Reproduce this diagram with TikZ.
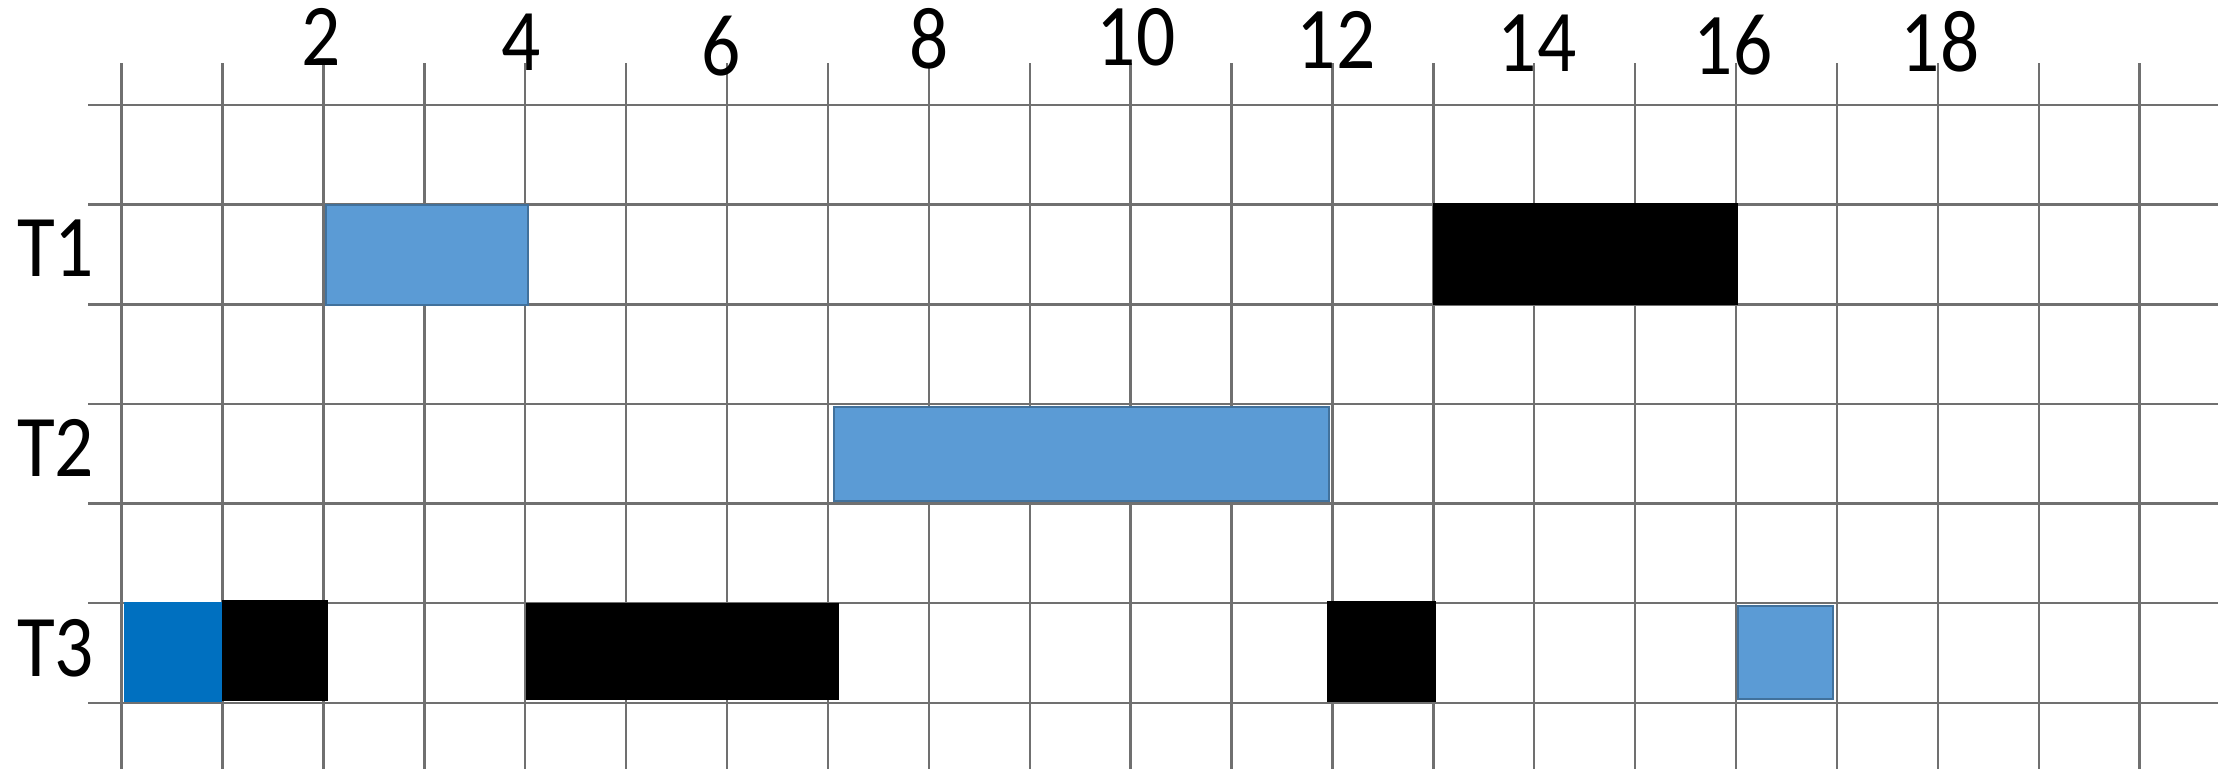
\documentclass[tikz,border=0pt]{standalone}
\usepackage{fontspec}
\usepackage{graphicx}
\setmainfont{Carlito}
\definecolor{gridgray}{HTML}{707070}
\definecolor{barblue}{HTML}{5B9BD5}
\definecolor{barborder}{HTML}{41719C}
\definecolor{deepblue}{HTML}{0070C0}
\newcommand{\narrowtxt}[1]{\scalebox{0.88}[1]{#1}}
\begin{document}
\begin{tikzpicture}[x=1pt,y=-1pt,
  gridline/.style={draw=gridgray,line width=2.4pt},
  lbl/.style={font=\fontsize{88}{100}\selectfont, anchor=base, inner sep=0pt},
  lightbar/.style={fill=barblue,draw=barborder,line width=2pt},
  deepbar/.style={fill=deepblue},
  darkbar/.style={fill=black}]
\useasboundingbox[fill=white] (0,0) rectangle (2218,769);
% grid
\foreach \i in {0,...,20}
  \draw[gridline] ({121.6+100.9*\i},63) -- ({121.6+100.9*\i},769);
\foreach \y in {105,204.5,304.5,404,503.5,603,703}
  \draw[gridline] (88,\y) -- (2218,\y);
% bars
\path[lightbar] (325.6,204.5) rectangle (527.6,304.5);
\path[darkbar] (1433,202.7) rectangle (1738,304.5);
\path[lightbar] (834,406.7) rectangle (1329,500.7);
\path[deepbar] (123.6,601.7) rectangle (221.8,701.7);
\path[darkbar] (221.8,600) rectangle (328,700.7);
\path[darkbar] (526,603) rectangle (839,700);
\path[darkbar] (1327.4,600.7) rectangle (1436,701.7);
\path[lightbar] (1738,605.7) rectangle (1833.3,699);
% axis labels
\node[lbl] (n2)  at (321,65.7) {\narrowtxt{2}};
\node[lbl] (n4)  at (521,70.5) {\narrowtxt{4}};
\node[lbl] (n6)  at (721,75) {\narrowtxt{6}};
\node[lbl] (n8)  at (929,68.3) {\narrowtxt{8}};
\node[lbl] (n10) at (1136,65.7) {\narrowtxt{10}};
\node[lbl] (n12) at (1336,68.3) {\narrowtxt{12}};
\node[lbl] (n14) at (1537,71) {\narrowtxt{14}};
\node[lbl] (n16) at (1733,74) {\narrowtxt{16}};
\node[lbl] (n18) at (1940,71) {\narrowtxt{18}};
% row labels
\node[lbl] (t1) at (55.5,276.7) {\narrowtxt{T1}};
\node[lbl] (t2) at (55.5,476.5) {\narrowtxt{T2}};
\node[lbl] (t3) at (55.5,676.7) {\narrowtxt{T3}};
\end{tikzpicture}
\end{document}
